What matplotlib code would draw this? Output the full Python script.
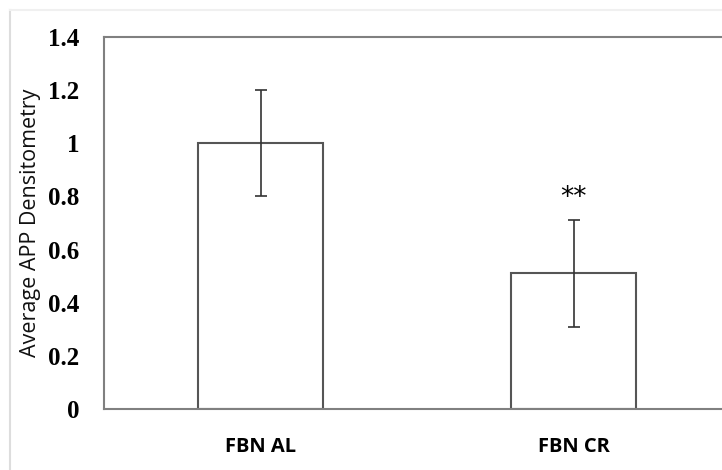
import matplotlib.pyplot as plt
from matplotlib.lines import Line2D

# ---------- DATA ----------
groups = ["FBN AL", "FBN CR"]
means = [1.0, 0.51]
errors = [0.2, 0.2]
yticks = [0, 0.2, 0.4, 0.6, 0.8, 1, 1.2, 1.4]
ytick_labels = ["0", "0.2", "0.4", "0.6", "0.8", "1", "1.2", "1.4"]

# ---------- PLOT ----------
fig = plt.figure(figsize=(7.22, 4.70), dpi=100)
ax = fig.add_axes([104 / 722, 61 / 470, 626 / 722, 372 / 470])

x = range(len(groups))
ax.bar(x, means, width=0.4, color="white", edgecolor="#555555", linewidth=1.5, zorder=2)
ax.errorbar(x, means, yerr=errors, fmt="none", ecolor="#333333", elinewidth=1.2,
            capsize=4.5, capthick=1.2, zorder=3)
ax.text(1, means[1] + errors[1] + 0.035, "**", ha="center", va="bottom",
        fontsize=19, fontfamily="DejaVu Sans")

ax.set_xlim(-0.5, 1.5)
ax.set_ylim(0, 1.4)
ax.set_yticks(yticks)
ax.set_yticklabels(ytick_labels, fontfamily="Liberation Serif", fontweight="bold", fontsize=18)
ax.set_xticks(list(x))
ax.set_xticklabels(groups, fontfamily="Open Sans", fontweight="bold", fontsize=14.5)
ax.tick_params(axis="both", length=0)
ax.tick_params(axis="y", pad=18)
ax.tick_params(axis="x", pad=20)
ax.set_ylabel("Average APP Densitometry", fontfamily="Open Sans", fontsize=15.5,
              labelpad=5, color="#111111")

for side in ["left", "top", "bottom"]:
    ax.spines[side].set_color("#808080")
    ax.spines[side].set_linewidth(1.5)
ax.spines["right"].set_visible(False)

# light outer chart frame
fig.add_artist(Line2D([10 / 722, 10 / 722], [0, 460 / 470], color="#dddddd", lw=1.5))
fig.add_artist(Line2D([10 / 722, 1], [460 / 470, 460 / 470], color="#f0f0f0", lw=1.5))

fig.savefig("out.png", dpi=100)
